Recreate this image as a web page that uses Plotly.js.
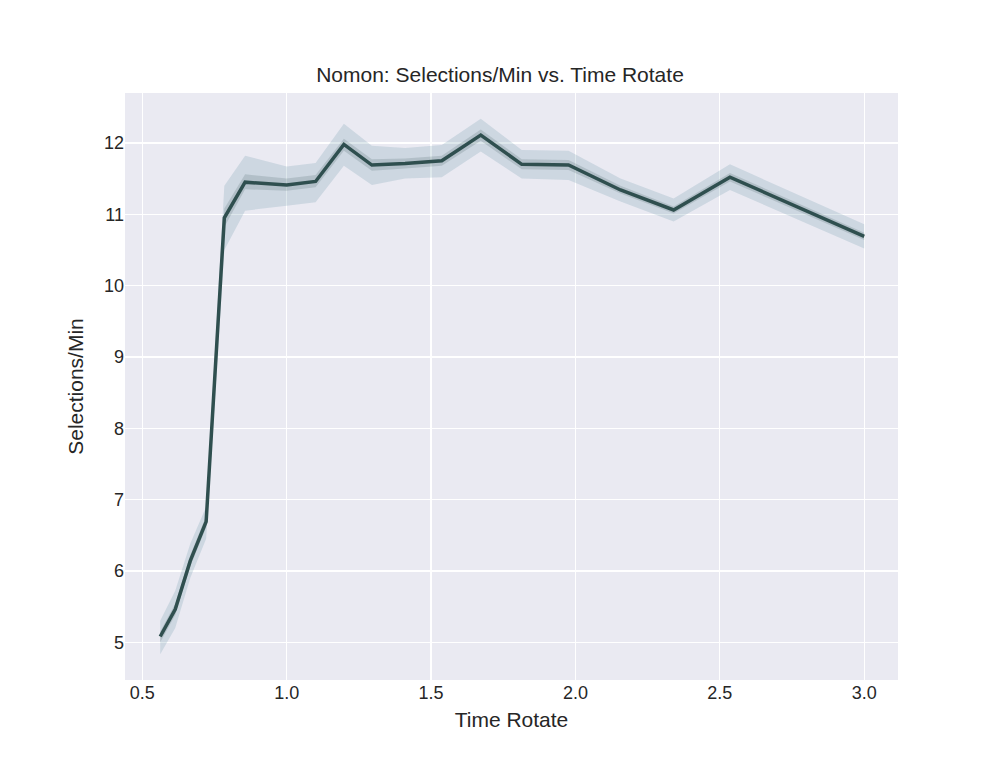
<!DOCTYPE html>
<html>
<head>
<meta charset="utf-8">
<script src="https://cdn.plot.ly/plotly-3.0.1.min.js"></script>
<style>body{margin:0}#chart{width:1000px;height:766px}</style>
</head>
<body>
<div id="chart"></div>
<script>
// Values
const timeRotate = [0.562, 0.614, 0.666, 0.721, 0.784, 0.856, 1.0, 1.10, 1.198, 1.295, 1.41, 1.537, 1.672, 1.814, 1.976, 2.156, 2.34, 2.535, 3.0];
const meanRate = [5.08, 5.46, 6.14, 6.69, 10.95, 11.45, 11.41, 11.46, 11.98, 11.69, 11.71, 11.75, 12.11, 11.70, 11.69, 11.34, 11.06, 11.52, 10.69];
const outerLow = [4.83, 5.20, 5.90, 6.45, 10.50, 11.05, 11.12, 11.17, 11.68, 11.41, 11.50, 11.52, 11.88, 11.50, 11.48, 11.18, 10.90, 11.34, 10.52];
const outerHigh = [5.30, 5.72, 6.38, 6.90, 11.40, 11.82, 11.67, 11.72, 12.27, 11.96, 11.93, 11.97, 12.34, 11.90, 11.89, 11.50, 11.22, 11.70, 10.86];
const innerLow = [5.00, 5.38, 6.06, 6.61, 10.82, 11.35, 11.33, 11.38, 11.89, 11.61, 11.64, 11.68, 12.03, 11.63, 11.62, 11.29, 11.01, 11.46, 10.64];
const innerHigh = [5.15, 5.54, 6.22, 6.77, 11.08, 11.56, 11.50, 11.55, 12.06, 11.77, 11.78, 11.82, 12.19, 11.77, 11.76, 11.40, 11.11, 11.58, 10.74];

const data = [
  { x: timeRotate, y: outerLow, mode: 'lines', line: { width: 0 }, hoverinfo: 'skip', showlegend: false },
  { x: timeRotate, y: outerHigh, mode: 'lines', line: { width: 0 }, fill: 'tonexty', fillcolor: 'rgba(90,140,160,0.2)', hoverinfo: 'skip', showlegend: false },
  { x: timeRotate, y: innerLow, mode: 'lines', line: { width: 0 }, hoverinfo: 'skip', showlegend: false },
  { x: timeRotate, y: innerHigh, mode: 'lines', line: { width: 0 }, fill: 'tonexty', fillcolor: 'rgba(47,79,79,0.17)', hoverinfo: 'skip', showlegend: false },
  { x: timeRotate, y: meanRate, mode: 'lines', line: { color: '#2f4f4f', width: 3.5 }, showlegend: false }
];

const layout = {
  width: 1000,
  height: 766,
  paper_bgcolor: '#ffffff',
  plot_bgcolor: '#eaeaf2',
  margin: { l: 125, r: 102, t: 93, b: 86 },
  font: { family: 'Liberation Sans, Arial, sans-serif', color: '#262626' },
  title: { text: 'Nomon: Selections/Min vs. Time Rotate', font: { size: 21 }, x: 0.5, xanchor: 'center', y: 0.902, yanchor: 'middle' },
  xaxis: {
    title: { text: 'Time Rotate', font: { size: 21 }, standoff: 10 },
    range: [0.44, 3.117],
    tickvals: [0.5, 1.0, 1.5, 2.0, 2.5, 3.0],
    ticktext: ['0.5', '1.0', '1.5', '2.0', '2.5', '3.0'],
    tickfont: { size: 18 },
    gridcolor: '#ffffff', gridwidth: 1.3, zeroline: false, showline: false, ticks: ''
  },
  yaxis: {
    title: { text: 'Selections/Min', font: { size: 21 }, standoff: 14 },
    range: [4.47, 12.7],
    tickvals: [5, 6, 7, 8, 9, 10, 11, 12],
    tickfont: { size: 18 },
    gridcolor: '#ffffff', gridwidth: 1.3, zeroline: false, showline: false, ticks: ''
  }
};

Plotly.newPlot('chart', data, layout, { staticPlot: true });
</script>
</body>
</html>
